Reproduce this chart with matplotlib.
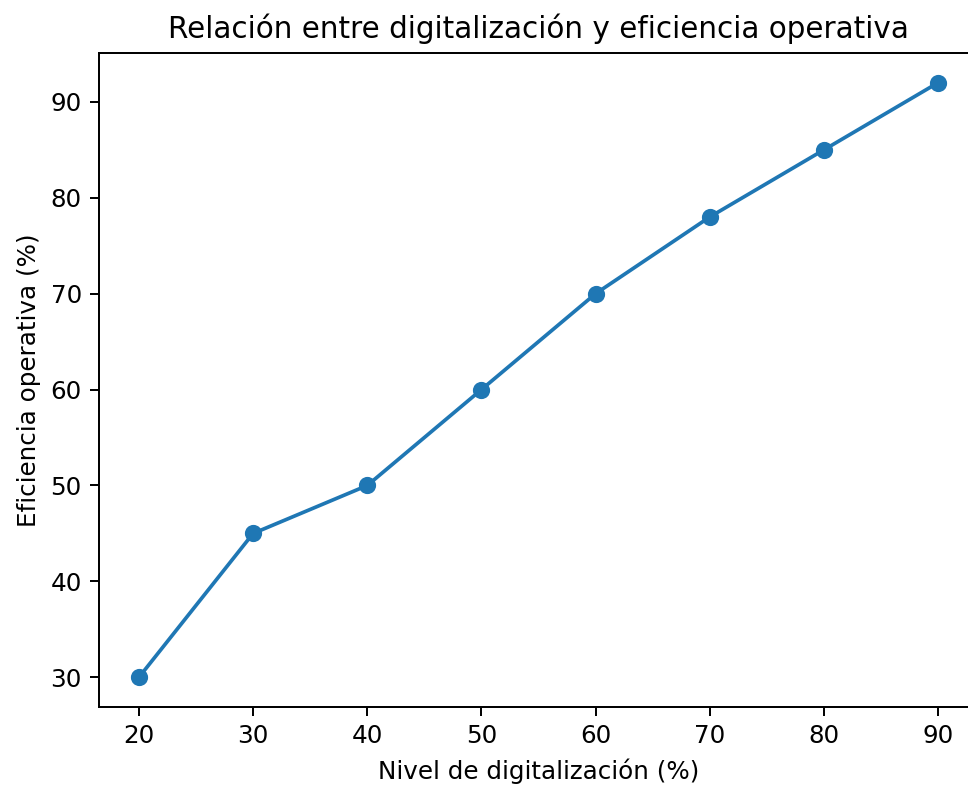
import matplotlib
matplotlib.use("Agg")
import matplotlib.pyplot as plt

digitalizacion = [20, 30, 40, 50, 60, 70, 80, 90]
eficiencia = [30, 45, 50, 60, 70, 78, 85, 92]

dpi = 177
fig = plt.figure(figsize=(968 / dpi, 785 / dpi), dpi=dpi)
ax = fig.add_axes([99 / 968, 1 - 707 / 785, 879 / 968, 654 / 785])

ax.plot(digitalizacion, eficiencia, marker="o", linestyle="-", color="#1f77b4")
ax.set_title("Relación entre digitalización y eficiencia operativa")
ax.set_xlabel("Nivel de digitalización (%)")
ax.set_ylabel("Eficiencia operativa (%)")

fig.savefig("out.png", dpi=dpi)
